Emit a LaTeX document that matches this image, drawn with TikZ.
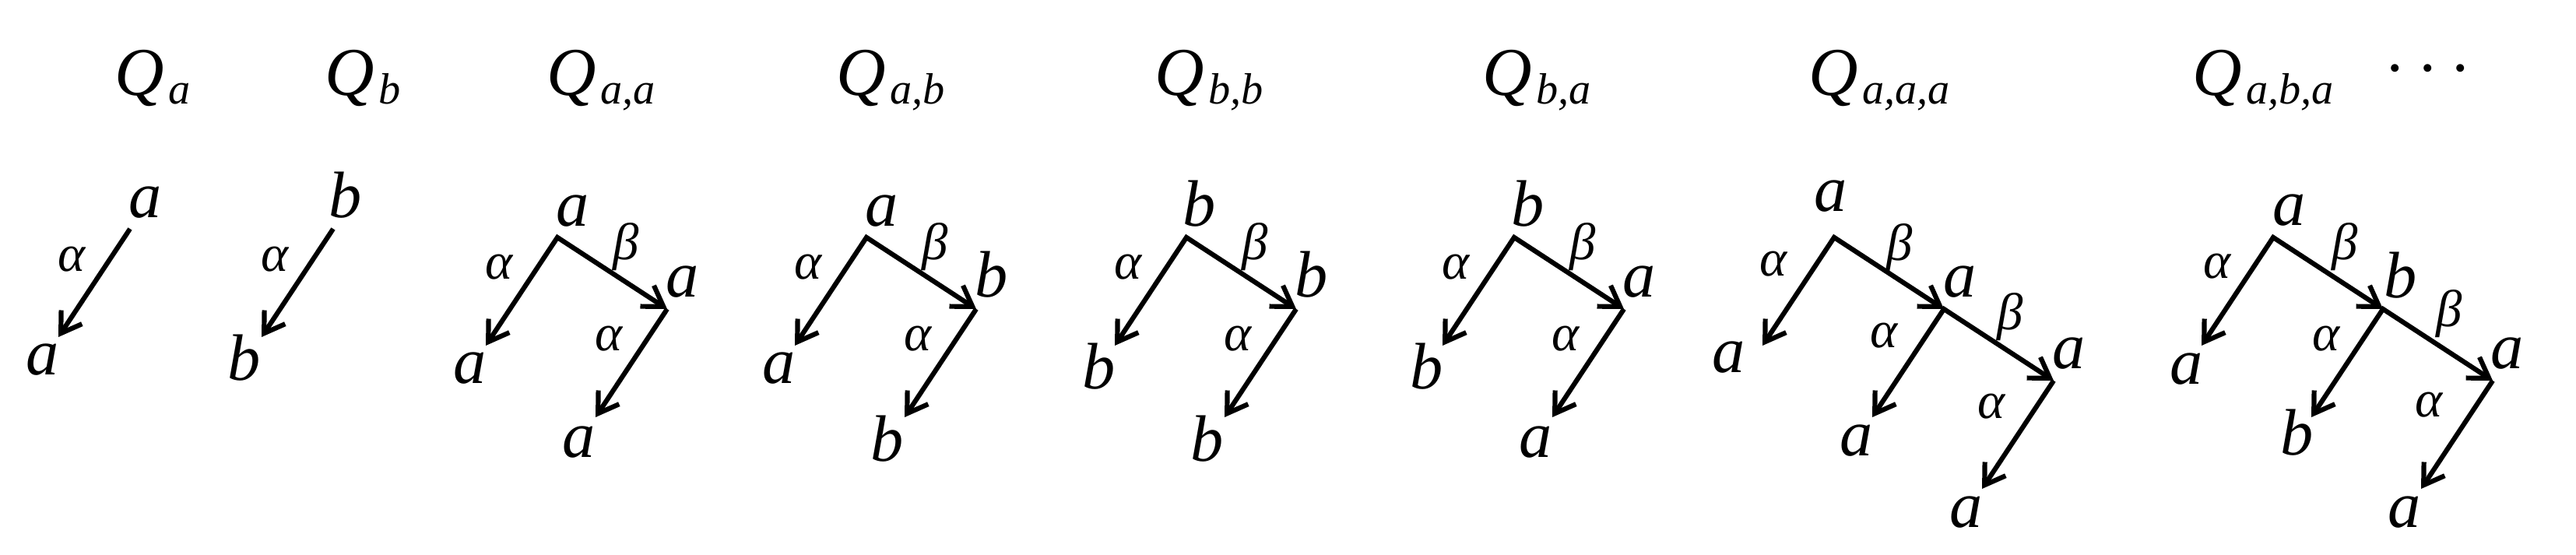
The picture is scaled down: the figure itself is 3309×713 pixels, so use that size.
\RequirePackage{fix-cm}
\documentclass[tikz,border=0pt]{standalone}
\usepackage{fontspec}
\IfFontExistsTF{LiberationSerif-Italic.ttf}{%
  \newfontfamily\tfi{LiberationSerif-Italic.ttf}%
  \newcommand\galpha{α}\newcommand\gbeta{β}%
}{%
  \newcommand\tfi{\itshape}%
  \newcommand\galpha{$\alpha$}\newcommand\gbeta{$\beta$}%
}
\usetikzlibrary{arrows.meta,calc}
\newcommand\Qs[1]{{\fontsize{25}{25}\selectfont\tfi Q}\kern0.05cm\raisebox{-0.11cm}{\fontsize{16}{16}\selectfont\tfi #1}}
\tikzset{
  lab/.style={font=\fontsize{24}{24}\selectfont\tfi, inner sep=0pt, anchor=base},
  leaf/.style={font=\fontsize{24}{24}\selectfont\tfi, inner sep=0pt, anchor=center},
  gr/.style={font=\fontsize{19}{19}\selectfont\tfi, inner sep=0pt, anchor=center},
  qlab/.style={inner sep=0pt, anchor=base west},
  edge/.style={line width=0.062cm, -{Straight Barb[length=0.25cm,width=0.32cm]}},
  fork/.style={line width=0.062cm, {Straight Barb[length=0.25cm,width=0.32cm]}-{Straight Barb[length=0.25cm,width=0.32cm]}}
}
\begin{document}
\begin{tikzpicture}[x=0.01cm,y=-0.01cm]
\useasboundingbox (0,0) rectangle (3309,713);
% titles
\node[qlab] (t1) at (147,123) {\Qs{a}};
\node[qlab] (t2) at (417,123) {\Qs{b}};
\node[qlab] (t3) at (702,123) {\Qs{a,a}};
\node[qlab] (t4) at (1074,123) {\Qs{a,b}};
\node[qlab] (t5) at (1483,123) {\Qs{b,b}};
\node[qlab] (t6) at (1904,123) {\Qs{b,a}};
\node[qlab] (t7) at (2323,123) {\Qs{a,a,a}};
\node[qlab] (t8) at (2816,123) {\Qs{a,b,a}};
\node[inner sep=0pt] (dots) at (3119,90) {\fontsize{27}{30}\selectfont$\cdots$};

% Q_a
\coordinate (qa-r) at (167,294);
\coordinate (qa-l) at (75,433);
\draw[edge] (qa-r) -- (qa-l);
\node[lab] (qa-rt) at ($(qa-r)+(20,-14)$) {a};
\node[leaf] (qa-lt) at ($(qa-l)+(-20,29)$) {a};
\node[gr] (qa-al) at ($(qa-r)+(-75,39)$) {\galpha};

% Q_b
\coordinate (qb-r) at (428,294);
\coordinate (qb-l) at (336,433);
\draw[edge] (qb-r) -- (qb-l);
\node[lab] (qb-rt) at ($(qb-r)+(16,-14)$) {b};
\node[leaf] (qb-lt) at ($(qb-l)+(-22,27)$) {b};
\node[gr] (qb-al) at ($(qb-r)+(-75,39)$) {\galpha};

% Q_{a,a}
\coordinate (qaa-r) at (716,305);
\coordinate (qaa-l1) at (624,444);
\coordinate (qaa-n1) at (857,397);
\coordinate (qaa-l2) at (765,536);
\draw[fork] (qaa-l1) -- (qaa-r) -- (qaa-n1);
\draw[edge] (qaa-n1) -- (qaa-l2);
\node[lab] (qaa-rt) at ($(qaa-r)+(20,-14)$) {a};
\node[leaf] (qaa-l1t) at ($(qaa-l1)+(-20,29)$) {a};
\node[lab] (qaa-n1t) at ($(qaa-n1)+(20,-15)$) {a};
\node[leaf] (qaa-l2t) at ($(qaa-l2)+(-21,32)$) {a};
\node[gr] (qaa-a1) at ($(qaa-r)+(-75,38)$) {\galpha};
\node[gr] (qaa-b1) at ($(qaa-r)+(88,12)$) {\gbeta};
\node[gr] (qaa-a2) at ($(qaa-n1)+(-75,38)$) {\galpha};

% Q_{a,b}
\coordinate (qab-r) at (1113,305);
\coordinate (qab-l1) at (1021,444);
\coordinate (qab-n1) at (1254,397);
\coordinate (qab-l2) at (1162,536);
\draw[fork] (qab-l1) -- (qab-r) -- (qab-n1);
\draw[edge] (qab-n1) -- (qab-l2);
\node[lab] (qab-rt) at ($(qab-r)+(20,-14)$) {a};
\node[leaf] (qab-l1t) at ($(qab-l1)+(-20,29)$) {a};
\node[lab] (qab-n1t) at ($(qab-n1)+(20,-15)$) {b};
\node[leaf] (qab-l2t) at ($(qab-l2)+(-22,28)$) {b};
\node[gr] (qab-a1) at ($(qab-r)+(-75,38)$) {\galpha};
\node[gr] (qab-b1) at ($(qab-r)+(88,12)$) {\gbeta};
\node[gr] (qab-a2) at ($(qab-n1)+(-75,38)$) {\galpha};

% Q_{b,b}
\coordinate (qbb-r) at (1524,305);
\coordinate (qbb-l1) at (1432,444);
\coordinate (qbb-n1) at (1665,397);
\coordinate (qbb-l2) at (1573,536);
\draw[fork] (qbb-l1) -- (qbb-r) -- (qbb-n1);
\draw[edge] (qbb-n1) -- (qbb-l2);
\node[lab] (qbb-rt) at ($(qbb-r)+(17,-14)$) {b};
\node[leaf] (qbb-l1t) at ($(qbb-l1)+(-20,27)$) {b};
\node[lab] (qbb-n1t) at ($(qbb-n1)+(20,-15)$) {b};
\node[leaf] (qbb-l2t) at ($(qbb-l2)+(-22,28)$) {b};
\node[gr] (qbb-a1) at ($(qbb-r)+(-75,38)$) {\galpha};
\node[gr] (qbb-b1) at ($(qbb-r)+(88,12)$) {\gbeta};
\node[gr] (qbb-a2) at ($(qbb-n1)+(-75,38)$) {\galpha};

% Q_{b,a}
\coordinate (qba-r) at (1945,305);
\coordinate (qba-l1) at (1853,444);
\coordinate (qba-n1) at (2086,397);
\coordinate (qba-l2) at (1994,536);
\draw[fork] (qba-l1) -- (qba-r) -- (qba-n1);
\draw[edge] (qba-n1) -- (qba-l2);
\node[lab] (qba-rt) at ($(qba-r)+(18,-14)$) {b};
\node[leaf] (qba-l1t) at ($(qba-l1)+(-20,27)$) {b};
\node[lab] (qba-n1t) at ($(qba-n1)+(20,-15)$) {a};
\node[leaf] (qba-l2t) at ($(qba-l2)+(-21,32)$) {a};
\node[gr] (qba-a1) at ($(qba-r)+(-75,38)$) {\galpha};
\node[gr] (qba-b1) at ($(qba-r)+(88,12)$) {\gbeta};
\node[gr] (qba-a2) at ($(qba-n1)+(-75,38)$) {\galpha};

% Q_{a,a,a}
\coordinate (qaaa-r) at (2356,305);
\coordinate (qaaa-l1) at (2264,444);
\coordinate (qaaa-n1) at (2497,397);
\coordinate (qaaa-l2) at (2405,536);
\coordinate (qaaa-n2) at (2638,489);
\coordinate (qaaa-l3) at (2546,628);
\draw[fork] (qaaa-l1) -- (qaaa-r) -- (qaaa-n1);
\draw[fork] (qaaa-l2) -- (qaaa-n1) -- (qaaa-n2);
\draw[edge] (qaaa-n2) -- (qaaa-l3);
\node[lab] (qaaa-rt) at ($(qaaa-r)+(-4,-33)$) {a};
\node[leaf] (qaaa-l1t) at ($(qaaa-l1)+(-43,15)$) {a};
\node[lab] (qaaa-n1t) at ($(qaaa-n1)+(21,-15)$) {a};
\node[leaf] (qaaa-l2t) at ($(qaaa-l2)+(-20,30)$) {a};
\node[lab] (qaaa-n2t) at ($(qaaa-n2)+(20,-15)$) {a};
\node[leaf] (qaaa-l3t) at ($(qaaa-l3)+(-20,30)$) {a};
\node[gr] (qaaa-a1) at ($(qaaa-r)+(-78,34)$) {\galpha};
\node[gr] (qaaa-b1) at ($(qaaa-r)+(84,13)$) {\gbeta};
\node[gr] (qaaa-a2) at ($(qaaa-n1)+(-77,34)$) {\galpha};
\node[gr] (qaaa-b2) at ($(qaaa-n1)+(85,10)$) {\gbeta};
\node[gr] (qaaa-a3) at ($(qaaa-n2)+(-80,33)$) {\galpha};

% Q_{a,b,a}
\coordinate (qaba-r) at (2920,305);
\coordinate (qaba-l1) at (2828,444);
\coordinate (qaba-n1) at (3061,397);
\coordinate (qaba-l2) at (2969,536);
\coordinate (qaba-n2) at (3202,489);
\coordinate (qaba-l3) at (3110,628);
\draw[fork] (qaba-l1) -- (qaba-r) -- (qaba-n1);
\draw[fork] (qaba-l2) -- (qaba-n1) -- (qaba-n2);
\draw[edge] (qaba-n2) -- (qaba-l3);
\node[lab] (qaba-rt) at ($(qaba-r)+(21,-15)$) {a};
\node[leaf] (qaba-l1t) at ($(qaba-l1)+(-19,30)$) {a};
\node[lab] (qaba-n1t) at ($(qaba-n1)+(23,-14)$) {b};
\node[leaf] (qaba-l2t) at ($(qaba-l2)+(-18,20)$) {b};
\node[lab] (qaba-n2t) at ($(qaba-n2)+(19,-15)$) {a};
\node[leaf] (qaba-l3t) at ($(qaba-l3)+(-21,30)$) {a};
\node[gr] (qaba-a1) at ($(qaba-r)+(-72,37)$) {\galpha};
\node[gr] (qaba-b1) at ($(qaba-r)+(92,12)$) {\gbeta};
\node[gr] (qaba-a2) at ($(qaba-n1)+(-73,38)$) {\galpha};
\node[gr] (qaba-b2) at ($(qaba-n1)+(85,6)$) {\gbeta};
\node[gr] (qaba-a3) at ($(qaba-n2)+(-82,31)$) {\galpha};
\end{tikzpicture}
\end{document}
